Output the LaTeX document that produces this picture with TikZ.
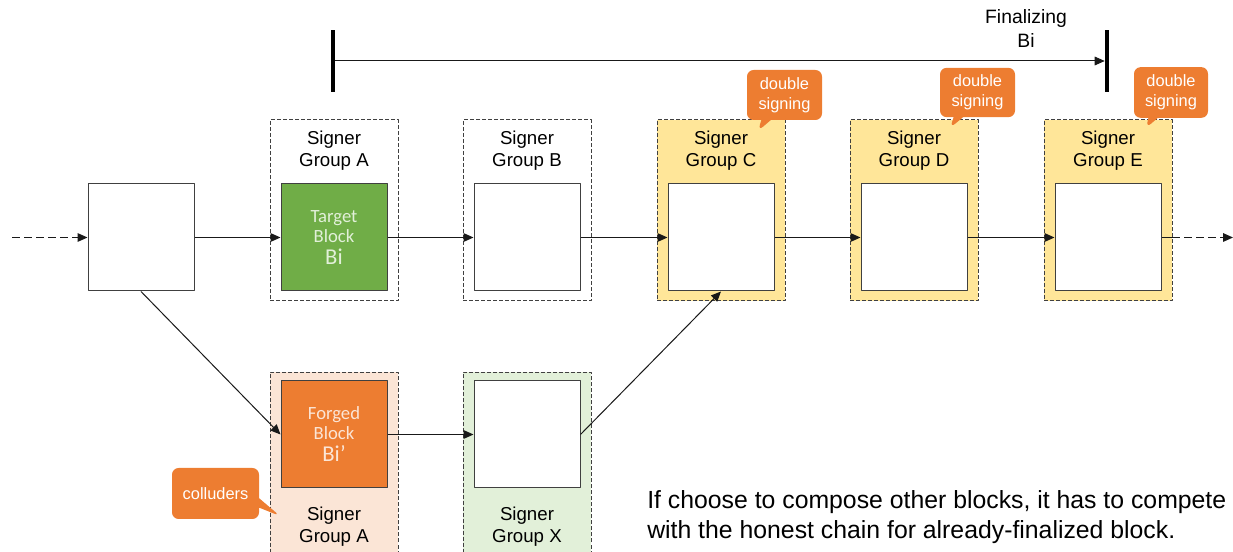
\documentclass[tikz,border=0pt]{standalone}
\usepackage{fontspec}
\setmainfont{Liberation Sans}
\newfontfamily\blkfont{Carlito}
\usetikzlibrary{arrows.meta,shapes.callouts,positioning}

\definecolor{grpYellow}{HTML}{FFE699}
\definecolor{grpPeach}{HTML}{FBE5D6}
\definecolor{grpMint}{HTML}{E2F0D9}
\definecolor{blkGreen}{HTML}{70AD47}
\definecolor{blkOrange}{HTML}{ED7D31}
\definecolor{lineGray}{HTML}{404040}

\tikzset{
  group/.style={draw=lineGray, dash pattern=on 3pt off 1.5pt, line width=0.75pt,
    minimum width=96pt, minimum height=135.75pt, inner sep=0pt},
  lowgroup/.style={group, minimum height=135pt},
  blk/.style={draw=lineGray, fill=white, line width=0.75pt,
    minimum width=79.5pt, minimum height=80.25pt, inner sep=0pt, align=center},
  grplabel/.style={align=center, inner sep=0pt, font=\fontsize{14}{16.5}\selectfont},
  bubble/.style={rectangle callout, fill=blkOrange, text=white, rounded corners=5pt,
    align=center, inner sep=0pt, font=\fontsize{12.3}{15}\selectfont},
  bar/.style={fill=black, inner sep=0pt, minimum width=3pt, minimum height=46.5pt},
  link/.style={draw=black!90, line width=0.75pt, ->},
}

\begin{document}
\begin{tikzpicture}[x=0.75pt, y=-0.75pt, line join=round,
    >={Triangle[length=7.5pt,width=6.5pt]}]
\useasboundingbox (0,0) rectangle (1233,552);

% timeline towards finalization
\node[bar] (barL) at (333,61) {};
\node[bar] (barR) at (1107,61) {};
\draw[link] (barL) -- (barR);
\node[align=center, font=\fontsize{14.5}{18}\selectfont] (fin) at (1026,28) {Finalizing\\Bi};

% honest chain, signer groups
\node[group] (grpA) at (334,210.5) {};
\node[group] (grpB) at (527,210.5) {};
\node[group, fill=grpYellow] (grpC) at (721,210.5) {};
\node[group, fill=grpYellow] (grpD) at (914,210.5) {};
\node[group, fill=grpYellow] (grpE) at (1108,210.5) {};

\node[grplabel] (lblA) at (334,151) {Signer\\Group A};
\node[grplabel] (lblB) at (527,151) {Signer\\Group B};
\node[grplabel] (lblC) at (721,151) {Signer\\Group C};
\node[grplabel] (lblD) at (914,151) {Signer\\Group D};
\node[grplabel] (lblE) at (1108,151) {Signer\\Group E};

% blocks
\node[blk] (prev) at (141,237.5) {};
\node[blk, fill=blkGreen, text=grpMint, font=\blkfont\fontsize{14}{15}\selectfont] (tgt) at (334,237.5)
  {Target\\Block\\[1.5pt]{\fontsize{17}{18}\selectfont Bi}};
\node[blk] (blkB) at (527,237.5) {};
\node[blk] (blkC) at (721,237.5) {};
\node[blk] (blkD) at (914,237.5) {};
\node[blk] (blkE) at (1108,237.5) {};

% forked chain
\node[lowgroup, fill=grpPeach] (grpF) at (334,462.5) {};
\node[lowgroup, fill=grpMint] (grpX) at (527,462.5) {};
\node[grplabel] (lblF) at (334,526.5) {Signer\\Group A};
\node[grplabel] (lblX) at (527,526.5) {Signer\\Group X};
\node[blk, fill=blkOrange, text=grpPeach, font=\blkfont\fontsize{14}{15}\selectfont] (forged) at (334,434.5)
  {Forged\\Block\\[1.5pt]{\fontsize{17}{18}\selectfont Bi’}};
\node[blk] (blkX) at (527,434.5) {};

% connectors
\coordinate (inL) at (12,237.5);
\coordinate (edgeE) at (1172,237.5);
\coordinate (outR) at (1233,237.5);
\draw[link, dash pattern=on 6pt off 3pt] (inL) -- (prev);
\draw[link] (prev) -- (tgt);
\draw[link] (tgt) -- (blkB);
\draw[link] (blkB) -- (blkC);
\draw[link] (blkC) -- (blkD);
\draw[link] (blkD) -- (blkE);
\draw[draw=black!90, line width=0.75pt] (blkE.east) -- (edgeE);
\draw[link, dash pattern=on 6pt off 3pt] (edgeE) -- (outR);
\draw[link] (prev.south) -- (forged.west);
\draw[link] (forged) -- (blkX);
\draw[link] (blkX.east) -- (blkC.south);

% callouts
\node[bubble, minimum width=56.25pt, minimum height=37.5pt, callout absolute pointer={(758,131)}]
  (dsC) at (784.5,95) {double\\signing};
\node[bubble, minimum width=56.25pt, minimum height=37pt, callout absolute pointer={(950,128)}]
  (dsD) at (977.5,92.5) {double\\signing};
\node[bubble, minimum width=55.5pt, minimum height=38pt, callout absolute pointer={(1146,128)}]
  (dsE) at (1171,92.5) {double\\signing};
\node[bubble, minimum width=65.25pt, minimum height=38.25pt, callout absolute pointer={(280,516)}]
  (colluders) at (215.5,493.5) {colluders};

% note
\node[anchor=west, align=left, inner sep=0pt, font=\fontsize{18.6}{23}\selectfont] (note) at (647,517)
  {If choose to compose other blocks, it has to compete\\with the honest chain for already-finalized block.};
\end{tikzpicture}
\end{document}
